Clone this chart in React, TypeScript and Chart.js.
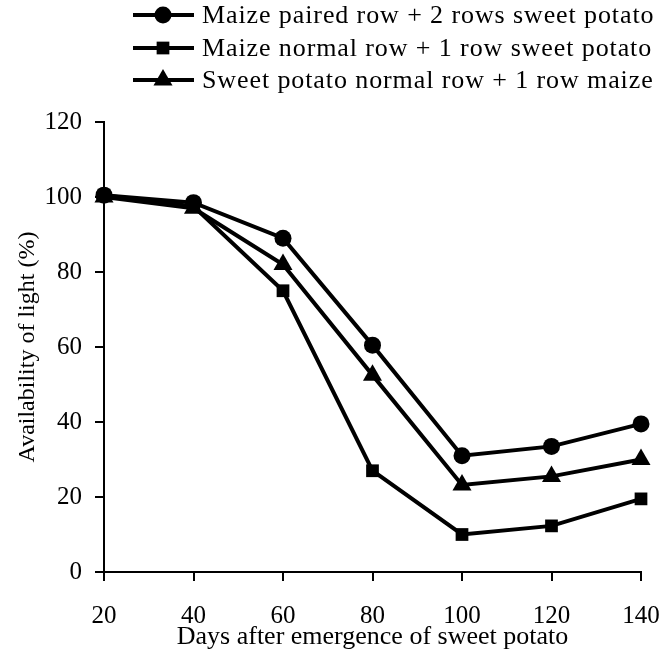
import React, { useEffect, useRef } from "react";
import { Chart, registerables } from "chart.js";

Chart.register(...registerables);

const days = [20, 40, 60, 80, 100, 120, 140];
const pairedRow = [100.5, 98.5, 89, 60.5, 31, 33.5, 39.5];
const normalRowMaize = [100.5, 97.5, 75, 27, 10, 12.3, 19.5];
const normalRowSweet = [100, 97, 82, 52.5, 23.2, 25.5, 30];
const seriesLabels = [
  "Maize paired row + 2 rows sweet potato",
  "Maize normal row + 1 row sweet potato",
  "Sweet potato normal row + 1 row maize",
];
const pointStyles = ["circle", "rect", "triangle"];
const pointRadii = [8.5, 9, 11];

const FONT = "'Liberation Serif', 'Times New Roman', serif";

const legendPlugin = {
  id: "customLegend",
  afterDraw(chart: any) {
    const ctx = chart.ctx;
    const rowsY = [15, 48, 80];
    ctx.save();
    chart.data.datasets.forEach((ds: any, i: number) => {
      const y = rowsY[i];
      ctx.strokeStyle = "#000";
      ctx.lineWidth = 4;
      ctx.beginPath();
      ctx.moveTo(133, y);
      ctx.lineTo(194, y);
      ctx.stroke();
      ctx.fillStyle = "#000";
      const r = ds.pointRadius;
      if (ds.pointStyle === "circle") {
        ctx.beginPath();
        ctx.arc(163, y, r, 0, Math.PI * 2);
        ctx.fill();
      } else if (ds.pointStyle === "rect") {
        const s = r * Math.SQRT1_2;
        ctx.fillRect(163 - s, y - s, 2 * s, 2 * s);
      } else {
        ctx.beginPath();
        let rad = 0;
        ctx.moveTo(163 + Math.sin(rad) * r, y - Math.cos(rad) * r);
        rad += (2 * Math.PI) / 3;
        ctx.lineTo(163 + Math.sin(rad) * r, y - Math.cos(rad) * r);
        rad += (2 * Math.PI) / 3;
        ctx.lineTo(163 + Math.sin(rad) * r, y - Math.cos(rad) * r);
        ctx.closePath();
        ctx.fill();
      }
      ctx.font = `26px ${FONT}`;
      ctx.textAlign = "left";
      ctx.textBaseline = "middle";
      try {
        (ctx as any).letterSpacing = "0.9px";
      } catch (e) {}
      ctx.fillText(ds.label, 202, y + 1);
    });
    ctx.restore();
  },
};

export default function App() {
  const ref = useRef<HTMLCanvasElement | null>(null);
  useEffect(() => {
    if (!ref.current) return;
    const seriesValues = [pairedRow, normalRowMaize, normalRowSweet];
    const chart = new Chart(ref.current, {
      type: "line",
      data: {
        datasets: seriesValues.map((vals, i) => ({
          label: seriesLabels[i],
          data: days.map((d, j) => ({ x: d, y: vals[j] })),
          borderColor: "#000",
          backgroundColor: "#000",
          borderWidth: 4,
          pointStyle: pointStyles[i] as any,
          pointRadius: pointRadii[i],
          pointBorderWidth: 0,
          pointBackgroundColor: "#000",
          pointBorderColor: "#000",
          tension: 0,
          clip: false as any,
        })),
      },
      options: {
        animation: false,
        responsive: false,
        maintainAspectRatio: false,
        layout: { padding: { top: 122, right: 23, left: 0, bottom: 0 } },
        plugins: {
          legend: { display: false },
          tooltip: { enabled: false },
        },
        scales: {
          x: {
            type: "linear",
            min: 20,
            max: 140,
            afterFit: (s: any) => {
              s.height = 95;
              s.paddingLeft = 0;
              s.paddingRight = 0;
            },
            ticks: {
              stepSize: 20,
              color: "#000",
              font: { family: FONT, size: 25 },
              padding: 20,
              maxRotation: 0,
            },
            grid: {
              drawOnChartArea: false,
              drawTicks: true,
              tickLength: 9,
              color: "#000",
              lineWidth: 2,
            },
            border: { display: true, color: "#000", width: 2 },
            title: {
              display: true,
              text: "Days after emergence of sweet potato",
              color: "#000",
              font: { family: FONT, size: 26 },
              padding: { top: 0, bottom: 14 },
            },
          },
          y: {
            type: "linear",
            min: 0,
            max: 120,
            afterFit: (s: any) => {
              s.width = 104;
              s.paddingTop = 0;
              s.paddingBottom = 0;
            },
            ticks: {
              stepSize: 20,
              color: "#000",
              font: { family: FONT, size: 25 },
              padding: 13,
            },
            grid: {
              drawOnChartArea: false,
              drawTicks: true,
              tickLength: 9,
              color: "#000",
              lineWidth: 2,
            },
            border: { display: true, color: "#000", width: 2 },
            title: {
              display: true,
              text: "Availability of light (%)",
              color: "#000",
              font: { family: FONT, size: 24 },
              padding: { top: 13, bottom: 0 },
            },
          },
        },
      },
      plugins: [legendPlugin],
    });
    return () => chart.destroy();
  }, []);
  return (
    <div style={{ position: "fixed", left: 0, top: 0, width: 664, height: 667, background: "#fff" }}>
      <canvas ref={ref} width={664} height={667} />
    </div>
  );
}
